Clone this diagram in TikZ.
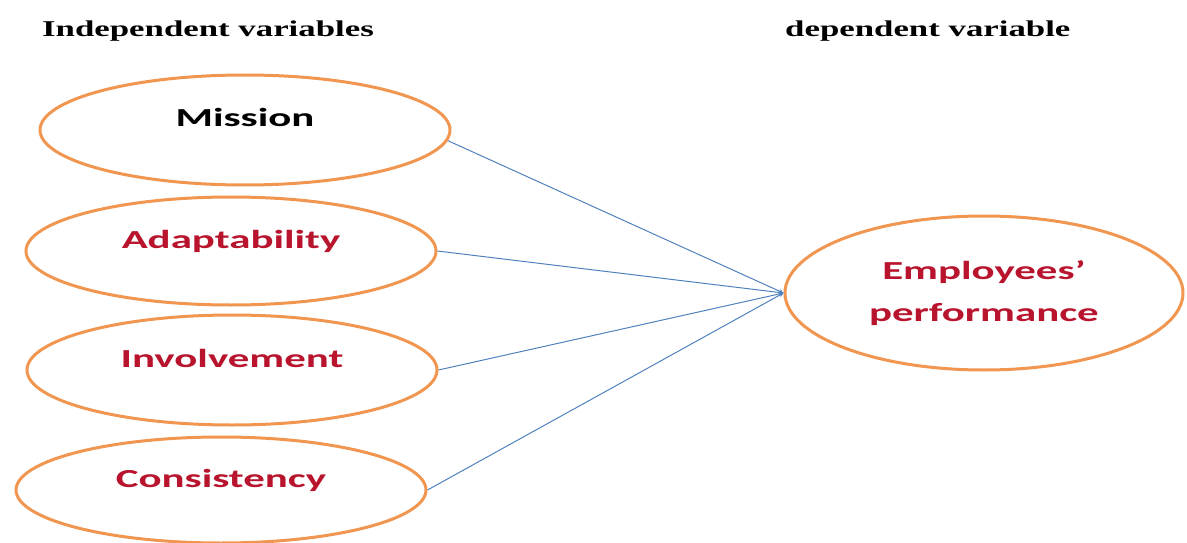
\documentclass[tikz,border=0pt]{standalone}
\usepackage{fontspec}
\usepackage{tikz}
\usetikzlibrary{arrows,shapes.geometric,positioning}

\newfontfamily\headfont[FakeStretch=1.54]{Liberation Serif}
\newfontfamily\varfont[FakeStretch=1.65]{Carlito}

\definecolor{ringorange}{RGB}{240,150,80}
\definecolor{varred}{RGB}{185,20,45}
\definecolor{arrowblue}{RGB}{79,129,189}

\begin{document}
\begin{tikzpicture}[x=1pt,y=-1pt]

	\tikzstyle{heading} = [anchor=base west, inner sep=0pt,
		font={\headfont\bfseries\fontsize{22.6}{27}\selectfont}]
	\tikzstyle{indep} = [ellipse, draw=ringorange, line width=3pt, text=varred,
		minimum width=410pt, minimum height=110pt, text height=18pt, text depth=24pt,
		font={\varfont\bfseries\fontsize{26}{42}\selectfont}]
	\tikzstyle{dep} = [indep, text height=, text depth=, align=center,
		minimum width=398pt, minimum height=154pt]
	\tikzstyle{line} = [draw=arrowblue, ->, >=stealth, line width=1pt]

    \useasboundingbox (0,0) rectangle (1187,543);

    % Headings
    \node [heading] at (42,37) (indep_title) {Independent variables};
    \node [heading] at (785,37) (dep_title) {dependent variable};

    % Place nodes
    \node [indep, text=black] at (245,130) (mission) {Mission};
    \node [indep, minimum height=108pt] at (231,251) (adaptability) {Adaptability};
    \node [indep] at (232,370) (involvement) {Involvement};
    \node [indep, minimum height=106pt] at (221,490) (consistency) {Consistency};

    \node [dep] at (984,293) (performance) {Employees’\\performance};

    % Draw edges
    \path [line] (mission.-3) -- (performance.west);
    \path [line] (adaptability.east) -- (performance.west);
    \path [line] (involvement.east) -- (performance.west);
    \path [line] (consistency.east) -- (performance.west);
\end{tikzpicture}
\end{document}
